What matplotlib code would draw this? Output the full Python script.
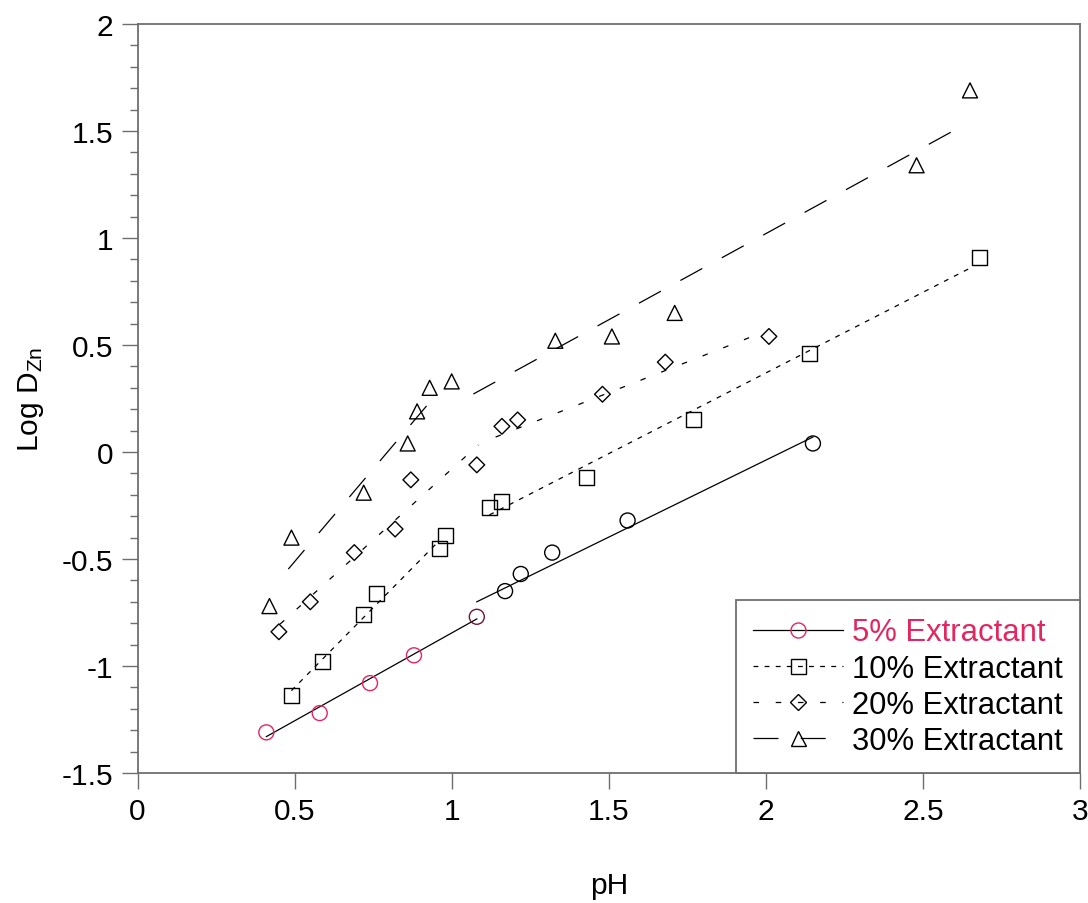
import matplotlib
matplotlib.use("Agg")
import matplotlib.pyplot as plt
from matplotlib.lines import Line2D

plt.rcParams["font.family"] = ["Liberation Sans", "DejaVu Sans"]
plt.rcParams["mathtext.default"] = "regular"
plt.rcParams["axes.unicode_minus"] = False
plt.rcParams["lines.scale_dashes"] = False

# measured points (pH, log D)
ph_5 = [0.41, 0.58, 0.74, 0.88, 1.08, 1.17, 1.22, 1.32, 1.56, 2.15]
logd_5 = [-1.31, -1.22, -1.08, -0.95, -0.77, -0.65, -0.57, -0.47, -0.32, 0.04]

ph_10 = [0.49, 0.59, 0.72, 0.76, 0.96, 0.98, 1.12, 1.16, 1.43, 1.77, 2.14, 2.68]
logd_10 = [-1.14, -0.98, -0.76, -0.66, -0.45, -0.39, -0.26, -0.23, -0.12, 0.15, 0.46, 0.91]

ph_20 = [0.45, 0.55, 0.69, 0.82, 0.87, 1.08, 1.16, 1.21, 1.48, 1.68, 2.01]
logd_20 = [-0.84, -0.70, -0.47, -0.36, -0.13, -0.06, 0.12, 0.15, 0.27, 0.42, 0.54]

ph_30 = [0.42, 0.49, 0.72, 0.86, 0.89, 0.93, 1.00, 1.33, 1.51, 1.71, 2.48, 2.65]
logd_30 = [-0.72, -0.40, -0.19, 0.04, 0.19, 0.30, 0.33, 0.52, 0.54, 0.65, 1.34, 1.69]

# fitted line segments (two per series)
fit_5_x = [[0.41, 1.08], [1.08, 2.15]]
fit_5_y = [[-1.33, -0.78], [-0.70, 0.07]]
fit_10_x = [[0.49, 0.95], [1.12, 2.655]]
fit_10_y = [[-1.115, -0.43], [-0.294, 0.863]]
fit_20_x = [[0.454, 1.085], [1.14, 1.95]]
fit_20_y = [[-0.804, 0.033], [0.07, 0.536]]
fit_30_x = [[0.48, 0.936], [1.069, 2.597]]
fit_30_y = [[-0.547, 0.243], [0.271, 1.501]]

labels = ["5% Extractant", "10% Extractant", "20% Extractant", "30% Extractant"]

x_ticks = [0, 0.5, 1, 1.5, 2, 2.5, 3]
x_ticklabels = ["0", "0.5", "1", "1.5", "2", "2.5", "3"]
y_ticks = [-1.5, -1, -0.5, 0, 0.5, 1, 1.5, 2]
y_ticklabels = ["-1.5", "-1", "-0.5", "0", "0.5", "1", "1.5", "2"]

pink = "#e3265f"
colors_5 = [pink, pink, pink, pink, "#6e1830"] + ["black"] * 5

ls_10 = (0, (3.5, 4.5))
ls_20 = (0, (4, 12))
ls_30 = (0, (18, 16))

fig = plt.figure(figsize=(10.88, 9.04), dpi=100)
ax = fig.add_axes([0.1264, 0.1438, 0.8662, 0.8285])

lw = 0.9
for xs, ys in zip(fit_5_x, fit_5_y):
    ax.plot(xs, ys, color="black", lw=lw, zorder=2)
for xs, ys in zip(fit_10_x, fit_10_y):
    ax.plot(xs, ys, color="black", lw=lw, linestyle=ls_10, zorder=2)
for xs, ys in zip(fit_20_x, fit_20_y):
    ax.plot(xs, ys, color="black", lw=lw, linestyle=ls_20, zorder=2)
for xs, ys in zip(fit_30_x, fit_30_y):
    ax.plot(xs, ys, color="black", lw=lw, linestyle=ls_30, zorder=2)

ms = 10.8
ax.scatter(ph_5, logd_5, s=ms ** 2, marker="o", facecolors="none",
           edgecolors=colors_5, linewidths=1.0, zorder=3)
ax.scatter(ph_10, logd_10, s=ms ** 2, marker="s", facecolors="none",
           edgecolors="black", linewidths=1.0, zorder=3)
ax.scatter(ph_20, logd_20, s=8.0 ** 2, marker="D", facecolors="none",
           edgecolors="black", linewidths=1.0, zorder=3)
ax.scatter(ph_30, logd_30, s=ms ** 2, marker="^", facecolors="none",
           edgecolors="black", linewidths=1.0, zorder=3)

ax.set_xlim(0, 3)
ax.set_ylim(-1.5, 2)
ax.set_xticks(x_ticks)
ax.set_xticklabels(x_ticklabels)
ax.set_yticks(y_ticks)
ax.set_yticklabels(y_ticklabels)
ax.set_yticks([v / 10 for v in range(-15, 21)], minor=True)

spine_col = "#6e6e6e"
for sp in ax.spines.values():
    sp.set_color(spine_col)
    sp.set_linewidth(1.3)
ax.tick_params(axis="both", which="major", direction="out", length=11.5,
               width=1.0, color=spine_col, labelsize=21.5, pad=6)
ax.tick_params(axis="y", which="minor", direction="out", length=6,
               width=1.0, color=spine_col)
ax.tick_params(axis="x", which="minor", bottom=False)

ax.set_xlabel("pH", fontsize=21.5, labelpad=33)
ax.set_ylabel(r"Log D$_{Zn}$", fontsize=21.5, labelpad=11.5)

# legend proxies: black fit line + open marker
handles = [
    Line2D([], [], color="black", lw=lw, marker="o", ms=ms, mfc="none", mec=pink, mew=1.0),
    Line2D([], [], color="black", lw=lw, linestyle=ls_10, marker="s", ms=ms, mfc="none", mec="black", mew=1.0),
    Line2D([], [], color="black", lw=lw, linestyle=ls_20, marker="D", ms=8.0, mfc="none", mec="black", mew=1.0),
    Line2D([], [], color="black", lw=lw, linestyle=ls_30, marker="^", ms=ms, mfc="none", mec="black", mew=1.0),
]
leg = ax.legend(handles, labels, loc="lower right", bbox_to_anchor=(1, 0),
                borderaxespad=0, fontsize=22.3, frameon=True, fancybox=False,
                framealpha=1, edgecolor=spine_col, handlelength=2.9,
                handletextpad=0.3, labelspacing=0.2, borderpad=0.55,
                numpoints=1)
leg.get_frame().set_linewidth(1.3)
leg.get_texts()[0].set_color(pink)

fig.savefig("out.png", dpi=100)
